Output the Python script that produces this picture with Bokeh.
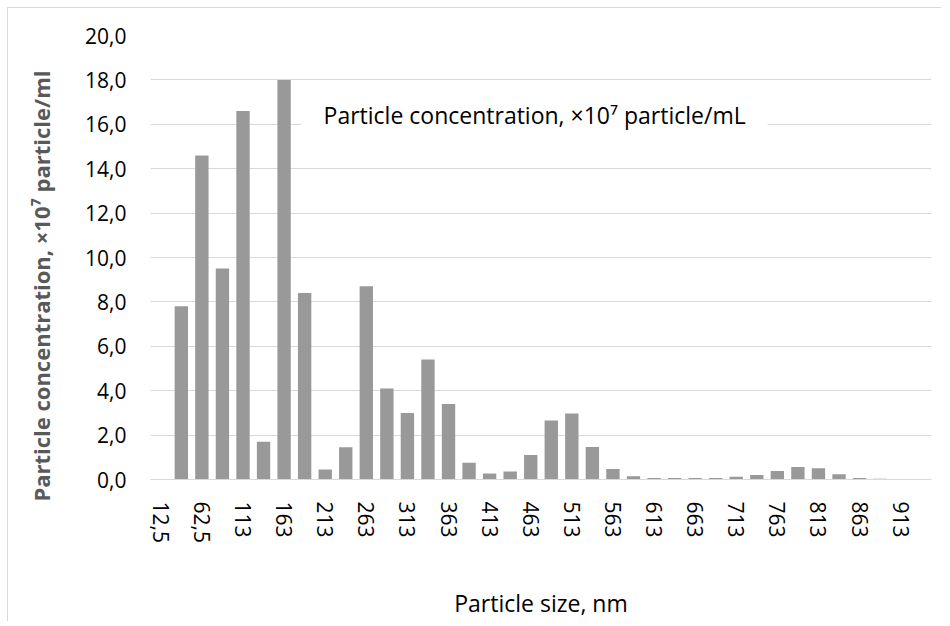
from bokeh.plotting import figure
from bokeh.models import Range1d, FixedTicker, Label, ColumnDataSource
from bokeh.embed import file_html
from bokeh.resources import INLINE

sizes = ["12,5", "37,5", "62,5", "87,5", "113", "138", "163", "188", "213", "238",
         "263", "288", "313", "338", "363", "388", "413", "438", "463", "488",
         "513", "538", "563", "588", "613", "638", "663", "688", "713", "738",
         "763", "788", "813", "838", "863", "888", "913", "938"]
conc = [0.0, 7.8, 14.6, 9.5, 16.6, 1.7, 18.0, 8.4, 0.45, 1.45,
        8.7, 4.1, 3.0, 5.4, 3.4, 0.75, 0.27, 0.36, 1.1, 2.66,
        2.97, 1.46, 0.47, 0.15, 0.07, 0.07, 0.07, 0.07, 0.12, 0.2,
        0.38, 0.56, 0.51, 0.24, 0.07, 0.03, 0.0, 0.0]
y_ticks = [0, 2, 4, 6, 8, 10, 12, 14, 16, 18, 20]
y_tick_labels = ["0,0", "2,0", "4,0", "6,0", "8,0", "10,0", "12,0", "14,0", "16,0", "18,0", "20,0"]
series_name = "Particle concentration, \u00d710\u2077 particle/mL"
y_title = "Particle concentration, \u00d710\u2077 particle/ml"
x_title = "Particle size, nm"

FONT = "Open Sans"

idx = list(range(len(sizes)))          # category slots along the x axis
src = ColumnDataSource(dict(x=idx, y=conc))

p = figure(width=934, height=614, output_backend="svg", toolbar_location=None,
           x_range=Range1d(-0.5, len(sizes) - 0.5), y_range=Range1d(0, 20),
           min_border_left=142, min_border_right=11, min_border_top=27, min_border_bottom=143)
p.styles = {"border-left": "1px solid #d9d9d9", "border-top": "1px solid #d9d9d9",
            "margin-left": "7px", "margin-top": "7px"}
p.outline_line_color = None
p.background_fill_color = "white"
p.border_fill_color = "white"

p.vbar(x="x", top="y", width=0.65, source=src, fill_color="#999999", line_color=None)

# y axis
p.yaxis.ticker = FixedTicker(ticks=y_ticks)
p.yaxis.major_label_overrides = {t: l for t, l in zip(y_ticks, y_tick_labels)}
p.yaxis.axis_line_color = None
p.yaxis.major_tick_line_color = None
p.yaxis.minor_tick_line_color = None
p.yaxis.major_label_text_font = FONT
p.yaxis.major_label_text_font_size = "21px"
p.yaxis.major_label_text_color = "#000000"
p.yaxis.major_label_standoff = 18
p.yaxis.axis_label = y_title + "\u00a0" * 10
p.yaxis.axis_label_text_font = FONT
p.yaxis.axis_label_text_font_size = "22px"
p.yaxis.axis_label_text_font_style = "bold"
p.yaxis.axis_label_text_color = "#595959"
p.yaxis.axis_label_standoff = 26

p.ygrid.grid_line_color = "#d9d9d9"
p.ygrid.grid_line_width = 1
p.xgrid.grid_line_color = None

# x axis
p.xaxis.ticker = FixedTicker(ticks=idx[::2])
p.xaxis.major_label_overrides = {i: s for i, s in zip(idx, sizes)}
p.xaxis.axis_line_color = "#d9d9d9"
p.xaxis.major_tick_line_color = None
p.xaxis.minor_tick_line_color = None
p.xaxis.major_label_orientation = "vertical"
p.xaxis.major_label_text_font = FONT
p.xaxis.major_label_text_font_size = "21px"
p.xaxis.major_label_text_color = "#000000"
p.xaxis.major_label_standoff = 16
p.xaxis.axis_label = x_title
p.xaxis.axis_label_text_font = FONT
p.xaxis.axis_label_text_font_size = "23px"
p.xaxis.axis_label_text_font_style = "normal"
p.xaxis.axis_label_text_color = "#000000"
p.xaxis.axis_label_standoff = 41

# in-plot legend-like label
lab = Label(x=6.85, y=16.4, text=series_name, text_font=FONT, text_font_size="23px",
            text_color="#000000", text_baseline="middle", text_align="left",
            background_fill_color="white", padding=dict(x=22, y=4))
p.add_layout(lab)

open("out.html", "w").write(file_html(p, INLINE))
